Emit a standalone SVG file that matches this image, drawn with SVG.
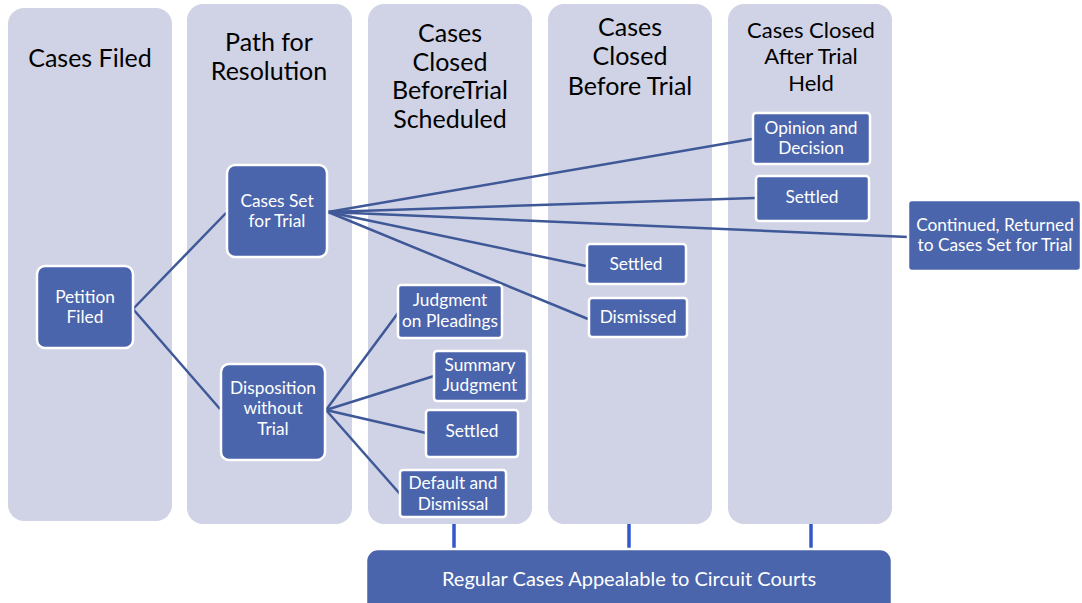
<svg xmlns="http://www.w3.org/2000/svg" width="1082" height="603" viewBox="0 0 1082 603">
<style>
.col{fill:#D0D3E5}
.nd{fill:#4A65AC;stroke:#FFFFFF;stroke-width:2.5}
.hd{font-family:Lato,"Liberation Sans",sans-serif;font-size:25px;fill:#000;text-anchor:middle}
.hd5{font-family:Lato,"Liberation Sans",sans-serif;font-size:22px;fill:#000;text-anchor:middle}
.tx{font-family:Lato,"Liberation Sans",sans-serif;font-size:17.3px;fill:#FFFFFF;text-anchor:middle}
.bt{font-family:Lato,"Liberation Sans",sans-serif;font-size:20px;fill:#FFFFFF;text-anchor:middle}
.ln{stroke:#3E5898;stroke-width:2.5;fill:none}
.vl{stroke:#3358C8;stroke-width:3.5;fill:none}
</style>
<rect width="1082" height="603" fill="#FFFFFF"/>
<g id="columns">
<rect class="col" x="8" y="8" width="164" height="513" rx="16"/>
<rect class="col" x="187" y="4" width="165" height="520" rx="16"/>
<rect class="col" x="368" y="4" width="164" height="520" rx="16"/>
<rect class="col" x="548" y="4" width="164" height="520" rx="16"/>
<rect class="col" x="728" y="4" width="164" height="520" rx="16"/>
<text class="hd" x="90" y="67">Cases Filed</text>
<text class="hd" x="269" y="51">Path for</text>
<text class="hd" x="269" y="80">Resolution</text>
<text class="hd" x="450" y="42">Cases</text>
<text class="hd" x="450" y="71">Closed</text>
<text class="hd" x="450" y="99">BeforeTrial</text>
<text class="hd" x="450" y="128">Scheduled</text>
<text class="hd" x="630" y="36">Cases</text>
<text class="hd" x="630" y="65">Closed</text>
<text class="hd" x="630" y="95">Before Trial</text>
<text class="hd5" x="811" y="38">Cases Closed</text>
<text class="hd5" x="811" y="64">After Trial</text>
<text class="hd5" x="811" y="91">Held</text>
</g>
<g id="connectors">
<line class="ln" x1="133" y1="309" x2="226" y2="213"/>
<line class="ln" x1="133" y1="309" x2="220" y2="409"/>
<line class="ln" x1="328" y1="212" x2="752" y2="139"/>
<line class="ln" x1="328" y1="212" x2="755" y2="198"/>
<line class="ln" x1="328" y1="212" x2="908" y2="237"/>
<line class="ln" x1="328" y1="212" x2="586" y2="266"/>
<line class="ln" x1="328" y1="212" x2="588" y2="319"/>
<line class="ln" x1="326" y1="410" x2="398" y2="313"/>
<line class="ln" x1="326" y1="410" x2="434" y2="376"/>
<line class="ln" x1="326" y1="410" x2="426" y2="433"/>
<line class="ln" x1="326" y1="410" x2="400" y2="494"/>
<line class="vl" x1="454" y1="524" x2="454" y2="550"/>
<line class="vl" x1="629" y1="524" x2="629" y2="550"/>
<line class="vl" x1="811" y1="524" x2="811" y2="550"/>
</g>
<g id="petition-filed">
<rect class="nd" x="37" y="266" width="96" height="82" rx="8"/>
<text class="tx" x="85" y="303">Petition</text>
<text class="tx" x="85" y="323">Filed</text>
</g>
<g id="cases-set-for-trial">
<rect class="nd" x="227" y="165" width="100" height="92" rx="8"/>
<text class="tx" x="277" y="207">Cases Set</text>
<text class="tx" x="277" y="227">for Trial</text>
</g>
<g id="disposition-without-trial">
<rect class="nd" x="221" y="364" width="104" height="96" rx="8"/>
<text class="tx" x="273" y="394">Disposition</text>
<text class="tx" x="273" y="414">without</text>
<text class="tx" x="273" y="435">Trial</text>
</g>
<g id="judgment-on-pleadings">
<rect class="nd" x="398" y="285" width="104" height="53" rx="3"/>
<text class="tx" x="450" y="306">Judgment</text>
<text class="tx" x="450" y="327">on Pleadings</text>
</g>
<g id="summary-judgment">
<rect class="nd" x="434" y="351" width="93" height="50" rx="3"/>
<text class="tx" x="480" y="371">Summary</text>
<text class="tx" x="480" y="391">Judgment</text>
</g>
<g id="settled-before-scheduled">
<rect class="nd" x="426" y="410" width="92" height="47" rx="3"/>
<text class="tx" x="472" y="437">Settled</text>
</g>
<g id="default-and-dismissal">
<rect class="nd" x="400" y="470" width="106" height="47" rx="3"/>
<text class="tx" x="453" y="489">Default and</text>
<text class="tx" x="453" y="510">Dismissal</text>
</g>
<g id="settled-before-trial">
<rect class="nd" x="587" y="244" width="99" height="40" rx="3"/>
<text class="tx" x="636" y="270">Settled</text>
</g>
<g id="dismissed">
<rect class="nd" x="589" y="298" width="98" height="39" rx="3"/>
<text class="tx" x="638" y="323">Dismissed</text>
</g>
<g id="opinion-and-decision">
<rect class="nd" x="753" y="113" width="117" height="51" rx="3"/>
<text class="tx" x="811" y="134">Opinion and</text>
<text class="tx" x="811" y="154">Decision</text>
</g>
<g id="settled-after-trial">
<rect class="nd" x="756" y="176" width="113" height="45" rx="3"/>
<text class="tx" x="812" y="203">Settled</text>
</g>
<g id="continued-returned">
<rect class="nd" x="908" y="200" width="173" height="71" rx="4"/>
<text class="tx" x="995" y="231">Continued, Returned</text>
<text class="tx" x="995" y="251">to Cases Set for Trial</text>
</g>
<g id="regular-cases-appealable">
<rect class="nd" x="366" y="549" width="526" height="70" rx="12" stroke="none"/>
<text class="bt" x="629" y="586">Regular Cases Appealable to Circuit Courts</text>
</g>
</svg>
